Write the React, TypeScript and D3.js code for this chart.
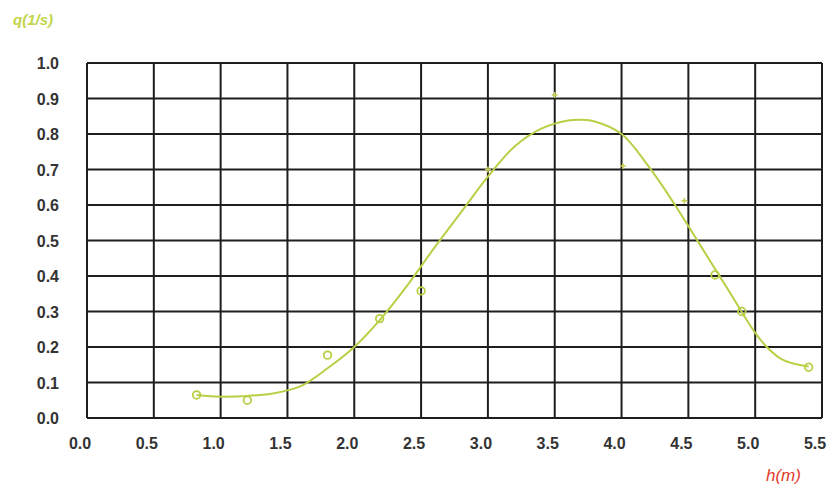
import React from "react";
import * as d3 from "d3";

const xTicks = [0, 0.5, 1, 1.5, 2, 2.5, 3, 3.5, 4, 4.5, 5, 5.5];
const yTicks = [0, 0.1, 0.2, 0.3, 0.4, 0.5, 0.6, 0.7, 0.8, 0.9, 1.0];

const pointH = [0.82, 1.2, 1.8, 2.19, 2.5, 3.0, 3.5, 4.01, 4.47, 4.7, 4.9, 5.4];
const pointQ = [0.065, 0.05, 0.177, 0.28, 0.358, 0.70, 0.91, 0.71, 0.612, 0.403, 0.30, 0.143];
const pointShape = ["o", "o", "o", "o", "o", "+", "+", "+", "+", "o", "o", "o"];

const curveH = [0.82, 1.0, 1.2, 1.4, 1.6, 1.8, 2.0, 2.2, 2.4, 2.6, 2.8, 3.0, 3.2, 3.4, 3.6, 3.7, 3.8, 4.0, 4.2, 4.4, 4.6, 4.8, 5.0, 5.1, 5.2, 5.3, 5.4];
const curveQ = [0.065, 0.06, 0.062, 0.07, 0.09, 0.14, 0.2, 0.28, 0.375, 0.48, 0.58, 0.68, 0.765, 0.815, 0.838, 0.84, 0.835, 0.80, 0.71, 0.60, 0.48, 0.36, 0.24, 0.195, 0.165, 0.152, 0.145];

const W = 838;
const H = 490;
const M = { left: 87, right: 838 - 822, top: 63, bottom: 490 - 418 };

export default function App() {
  const x = d3.scaleLinear().domain([0, 5.5]).range([M.left, W - M.right]);
  const y = d3.scaleLinear().domain([0, 1]).range([H - M.bottom, M.top]);
  const line = d3
    .line<number>()
    .x((_, i) => x(curveH[i]))
    .y((d) => y(d))
    .curve(d3.curveCatmullRom.alpha(0.5));
  const green = "#b9cf45";
  const fontFamily = "'Liberation Sans', Arial, sans-serif";
  return (
    <svg
      width={W}
      height={H}
      style={{ position: "absolute", left: 0, top: 0, background: "#fff" }}
    >
      {xTicks.map((t) => (
        <line key={"vx" + t} x1={x(t)} x2={x(t)} y1={y(0)} y2={y(1)} stroke="#1e1e1e" strokeWidth={2} />
      ))}
      {yTicks.map((t) => (
        <line key={"hy" + t} x1={x(0)} x2={x(5.5)} y1={y(t)} y2={y(t)} stroke="#1e1e1e" strokeWidth={2} />
      ))}
      {xTicks.map((t) => (
        <text
          key={"xl" + t}
          x={x(t) - 7}
          y={449}
          textAnchor="middle"
          fontFamily={fontFamily}
          fontWeight="bold"
          fontSize={16}
          fill="#333"
        >
          {t.toFixed(1)}
        </text>
      ))}
      {yTicks.map((t) => (
        <text
          key={"yl" + t}
          x={59}
          y={y(t) + 6}
          textAnchor="end"
          fontFamily={fontFamily}
          fontWeight="bold"
          fontSize={16}
          fill="#333"
        >
          {t.toFixed(1)}
        </text>
      ))}
      <path d={line(curveQ) || ""} fill="none" stroke={green} strokeWidth={2} />
      {pointH.map((h, i) =>
        pointShape[i] === "o" ? (
          <circle key={"p" + i} cx={x(h)} cy={y(pointQ[i])} r={3.8} fill="none" stroke={green} strokeWidth={1.8} />
        ) : (
          <g key={"p" + i} stroke="#c9cf55" strokeWidth={1.6}>
            <line x1={x(h) - 3} x2={x(h) + 3} y1={y(pointQ[i])} y2={y(pointQ[i])} />
            <line x1={x(h)} x2={x(h)} y1={y(pointQ[i]) - 3} y2={y(pointQ[i]) + 3} />
          </g>
        )
      )}
      <text x={13} y={25} fontFamily={fontFamily} fontStyle="italic" fontWeight="bold" fontSize={15} fill="#c2d44a">
        q(1/s)
      </text>
      <text x={766} y={481} fontFamily={fontFamily} fontStyle="italic" fontSize={17} fill="#e03a2a">
        h(m)
      </text>
    </svg>
  );
}
